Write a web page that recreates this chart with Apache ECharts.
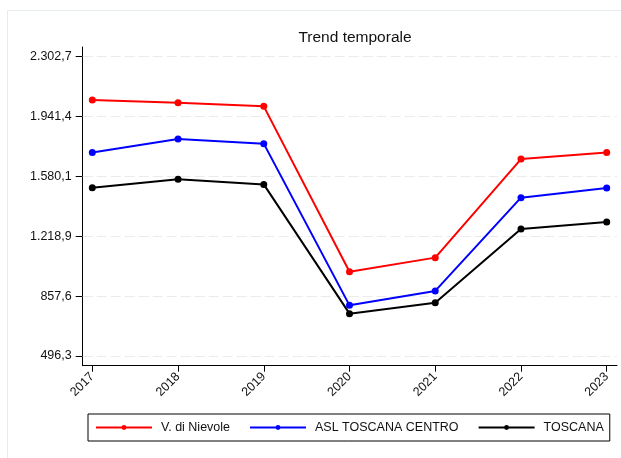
<!DOCTYPE html>
<html>
<head>
<meta charset="utf-8">
<script src="https://cdn.jsdelivr.net/npm/echarts@6/dist/echarts.min.js"></script>
<style>
html,body{margin:0;padding:0;background:#fff;}
#chart{width:621px;height:458px;}
</style>
</head>
<body>
<div id="chart"></div>
<script>
const years = [2017, 2018, 2019, 2020, 2021, 2022, 2023];
const seriesNames = ['V. di Nievole', 'ASL TOSCANA CENTRO', 'TOSCANA'];
const nievole = [2041, 2025, 2003, 1005, 1090, 1685, 1724];
const aslCentro = [1724, 1806, 1778, 802, 889, 1452, 1510];
const toscana = [1512, 1563, 1532, 752, 818, 1263, 1305];
const yTicks = [496.3, 857.6, 1218.9, 1580.1, 1941.4, 2302.7];
const yTickLabels = ['496,3', '857,6', '1.218,9', '1.580,1', '1.941,4', '2.302,7'];

const chart = echarts.init(document.getElementById('chart'), null, {renderer: 'canvas'});
const font = 'Liberation Sans, Arial, sans-serif';
const pairs = arr => arr.map((v, i) => [years[i], v]);
const colors = ['#ff0000', '#0000ff', '#000000'];
const values = [nievole, aslCentro, toscana];

const dataSeries = seriesNames.map((n, i) => ({
  name: n,
  type: 'line',
  data: pairs(values[i]),
  symbol: 'circle',
  symbolSize: 7,
  z: 3,
  lineStyle: {color: colors[i], width: 2},
  itemStyle: {color: colors[i]},
  animation: false
}));

const option = {
  animation: false,
  backgroundColor: '#ffffff',
  title: {
    text: 'Trend temporale',
    left: 350, textAlign: 'center', top: 25,
    textStyle: {fontFamily: font, fontSize: 15.5, fontWeight: 'normal', color: '#111'}
  },
  graphic: [{
    type: 'rect', silent: true, z: -10,
    shape: {x: 7.5, y: 10.5, width: 640, height: 460},
    style: {fill: 'none', stroke: '#e4ecee', lineWidth: 1}
  }],
  grid: {left: 82.7, right: 4, top: 47, bottom: 92.3, containLabel: false},
  legend: {
    data: seriesNames,
    left: 88, top: 414,
    orient: 'horizontal',
    itemWidth: 56, itemHeight: 6, itemGap: 19,
    padding: [7, 6, 7, 7],
    borderColor: '#000', borderWidth: 1,
    textStyle: {fontFamily: font, fontSize: 12.5, color: '#111', padding: [0, 0, 0, 4]}
  },
  xAxis: {
    type: 'value',
    min: 2016.888, max: 2023.12,
    axisLine: {show: true, onZero: false, lineStyle: {color: '#000', width: 1}},
    axisTick: {show: true, length: 6, customValues: years, lineStyle: {color: '#000'}},
    axisLabel: {
      customValues: years, rotate: 45, margin: 9,
      fontFamily: font, fontSize: 12.5, color: '#111',
      formatter: v => String(v)
    },
    splitLine: {show: false}
  },
  yAxis: {
    type: 'value',
    min: 437.8, max: 2361.2,
    axisLine: {show: true, onZero: false, lineStyle: {color: '#000', width: 1}},
    axisTick: {show: true, length: 7, customValues: yTicks, lineStyle: {color: '#000'}},
    axisLabel: {
      customValues: yTicks, margin: 11,
      fontFamily: font, fontSize: 12.5, color: '#111',
      formatter: v => {
        const i = yTicks.findIndex(t => Math.abs(t - v) < 0.01);
        return i >= 0 ? yTickLabels[i] : '';
      }
    },
    splitLine: {show: false}
  },
  series: [{
    name: 'grid',
    type: 'line',
    data: [],
    z: 1,
    silent: true,
    markLine: {
      silent: true,
      z: 1,
      symbol: 'none',
      label: {show: false},
      lineStyle: {color: '#ebebeb', type: [10, 4], width: 1},
      data: yTicks.map(t => ({yAxis: t}))
    }
  }].concat(dataSeries)
};
chart.setOption(option);
</script>
</body>
</html>
